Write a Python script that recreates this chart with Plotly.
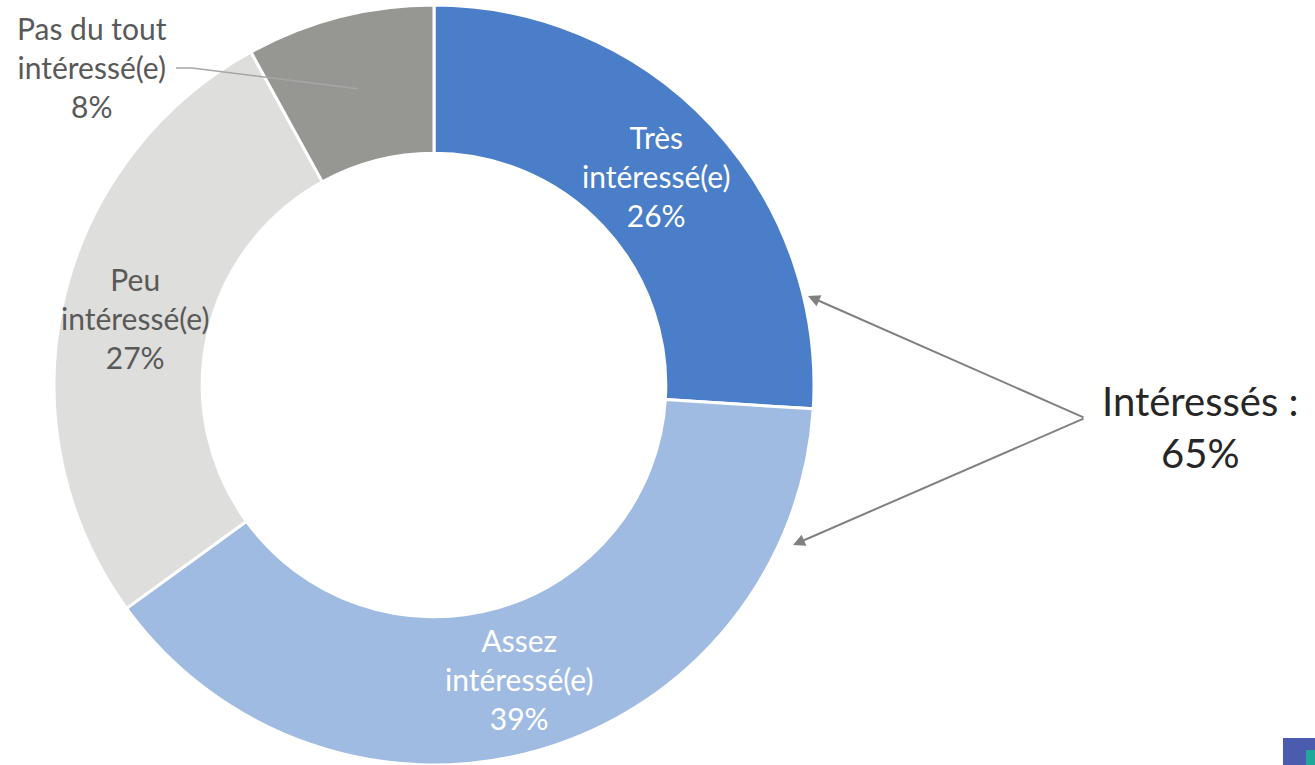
import math
import plotly.graph_objects as go

categories = ["Très intéressé(e)", "Assez intéressé(e)", "Peu intéressé(e)", "Pas du tout intéressé(e)"]
label_lines = ["Très<br>intéressé(e)", "Assez<br>intéressé(e)", "Peu<br>intéressé(e)", "Pas du tout<br>intéressé(e)"]
values = [26, 39, 27, 8]
colors = ["#4A7EC8", "#A0BBE2", "#DEDEDC", "#969793"]
text_colors = ["white", "white", "#595959", "#595959"]
summary_label = "Intéressés :"
summary_value = 65

W, H = 1315, 765
CX, CY, R_OUT = 434, 385, 380
HOLE = 0.61
FONT = "Lato"
LABEL_SIZE = 30

fig = go.Figure(go.Pie(
    labels=categories, values=values, sort=False, direction="clockwise",
    rotation=0, hole=HOLE, textinfo="none", hoverinfo="label+percent",
    marker=dict(colors=colors, line=dict(color="white", width=3)),
    domain=dict(x=[(CX - R_OUT) / W, (CX + R_OUT) / W], y=[(H - CY - R_OUT) / H, (H - CY + R_OUT) / H]),
    showlegend=False,
))

def px(x, y):
    return x / W, 1 - y / H

total = sum(values)
r_mid = R_OUT * (1 + HOLE) / 2
cum = 0
annotations = []
shapes = []
for i, v in enumerate(values):
    mid = (cum + v / 2) / total * 2 * math.pi
    cum += v
    x = CX + r_mid * math.sin(mid)
    y = CY - r_mid * math.cos(mid)
    pct = round(v / total * 100)
    txt = f"{label_lines[i]}<br>{pct}%"
    if i < 3:
        xx, yy = px(x, y)
    else:
        xx, yy = px(92, 67)
        x0, y0 = px(176, 68)
        x1, y1 = px(192, 68)
        x2, y2 = px(x, y)
        shapes.append(dict(type="path", xref="paper", yref="paper",
                           path=f"M {x0} {y0} L {x1} {y1} L {x2} {y2}",
                           line=dict(color="#A6A6A6", width=1.5)))
    annotations.append(dict(x=xx, y=yy, xref="paper", yref="paper", text=txt, showarrow=False,
                            xanchor="center", yanchor="middle",
                            font=dict(family=FONT, size=LABEL_SIZE, color=text_colors[i]), align="center"))

# Summary text
sx, sy = px(1200, 427)
annotations.append(dict(x=sx, y=sy, xref="paper", yref="paper",
                        text=f"{summary_label}<br>{summary_value}%", showarrow=False,
                        xanchor="center", yanchor="middle",
                        font=dict(family=FONT, size=40, color="#262626"), align="center"))
# arrows
tail = (1085, 418)
for head in [(808, 296), (793, 545)]:
    hx, hy = px(*head)
    annotations.append(dict(x=hx, y=hy, xref="paper", yref="paper", text="", showarrow=True,
                            ax=tail[0] - head[0], ay=tail[1] - head[1], axref="pixel", ayref="pixel",
                            arrowhead=2, arrowsize=1.2, arrowwidth=2, arrowcolor="#808080"))

# logo fragment bottom right
shapes.append(dict(type="rect", xref="paper", yref="paper", x0=1283 / W, x1=1.0, y0=0, y1=1 - 738 / H,
                   fillcolor="#4B5CAE", line=dict(width=0)))
shapes.append(dict(type="rect", xref="paper", yref="paper", x0=1306 / W, x1=1.0, y0=0, y1=1 - 750 / H,
                   fillcolor="#1FA79A", line=dict(width=0)))

fig.update_layout(width=W, height=H, margin=dict(l=0, r=0, t=0, b=0),
                  paper_bgcolor="white", plot_bgcolor="white",
                  annotations=annotations, shapes=shapes)
fig.write_html("out.html", config={"displayModeBar": False},
               post_script="document.body.style.margin='0';document.body.style.overflow='hidden';")
